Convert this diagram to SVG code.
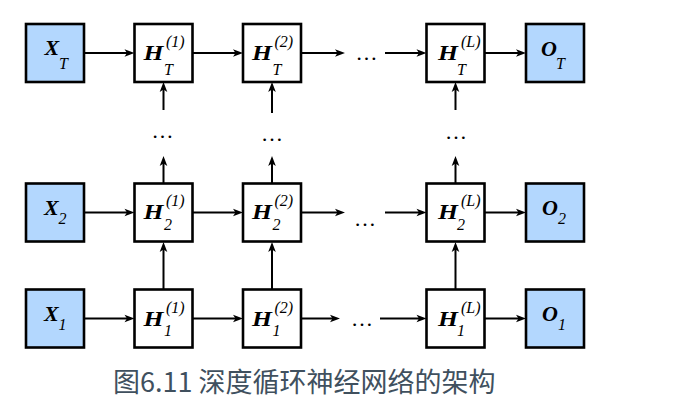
<svg xmlns="http://www.w3.org/2000/svg" width="685" height="414" viewBox="0 0 685 414">
<defs>
<marker id="ah" markerUnits="userSpaceOnUse" viewBox="-1 -5 12 10" refX="6" refY="0" markerWidth="12" markerHeight="10" orient="auto">
<path d="M0,-3.8 L10,0 L0,3.8 L2.5,0 Z" fill="#000"/>
</marker>
<style>
.box{stroke:#000;stroke-width:2.6;}
.io{fill:#b3d7fe;}
.hid{fill:#fff;}
.big{font-family:"Liberation Serif",serif;font-weight:bold;font-style:italic;font-size:22px;fill:#000;}
.sm{font-family:"Liberation Serif",serif;font-style:italic;font-size:16px;fill:#000;}
.dots{font-family:"Liberation Serif",serif;font-size:22px;fill:#000;text-anchor:middle;}
.c line{stroke:#000;stroke-width:2;marker-end:url(#ah);}
.cap{font-family:"Noto Sans CJK SC","Noto Sans",sans-serif;font-size:27px;fill:#40505e;}
</style>
</defs>
<rect width="685" height="414" fill="#fff"/>

<g class="c" id="connectors">
<line x1="84" y1="53" x2="130.5" y2="53"/>
<line x1="192.5" y1="53" x2="239" y2="53"/>
<line x1="301" y1="53" x2="341" y2="53"/>
<line x1="385" y1="53" x2="422.5" y2="53"/>
<line x1="484.5" y1="53" x2="522" y2="53"/>

<line x1="84" y1="212.5" x2="130.5" y2="212.5"/>
<line x1="192.5" y1="212.5" x2="239" y2="212.5"/>
<line x1="301" y1="212.5" x2="341" y2="212.5"/>
<line x1="385" y1="212.5" x2="422.5" y2="212.5"/>
<line x1="484.5" y1="212.5" x2="522" y2="212.5"/>

<line x1="84" y1="318.5" x2="130.5" y2="318.5"/>
<line x1="192.5" y1="318.5" x2="239" y2="318.5"/>
<line x1="301" y1="318.5" x2="336" y2="318.5"/>
<line x1="380" y1="318.5" x2="422.5" y2="318.5"/>
<line x1="484.5" y1="318.5" x2="522" y2="318.5"/>

<line x1="163.5" y1="289.5" x2="163.5" y2="246"/>
<line x1="163.5" y1="183.5" x2="163.5" y2="160"/>
<line x1="163.5" y1="110" x2="163.5" y2="86"/>
<line x1="272" y1="289.5" x2="272" y2="246"/>
<line x1="272" y1="183.5" x2="272" y2="160"/>
<line x1="272" y1="113" x2="272" y2="86"/>
<line x1="455.5" y1="289.5" x2="455.5" y2="246"/>
<line x1="455.5" y1="183.5" x2="455.5" y2="160"/>
<line x1="455.5" y1="110" x2="455.5" y2="86"/>
</g>

<g id="ellipses">
<text class="dots" x="366.5" y="59.5">…</text>
<text class="dots" x="365" y="225.5">…</text>
<text class="dots" x="362" y="325.5">…</text>
<text class="dots" x="162.5" y="137.5">…</text>
<text class="dots" x="272" y="140.5">…</text>
<text class="dots" x="456" y="138.5">…</text>
</g>

<!-- Row T -->
<g id="XT"><rect class="box io" x="26" y="24" width="58" height="58"/><text class="big" x="44.5" y="55">X</text><text class="sm" x="59" y="68.5">T</text></g>
<g id="HT1"><rect class="box hid" x="134.5" y="24" width="58" height="58"/><text class="big" x="143.5" y="60" textLength="20" lengthAdjust="spacingAndGlyphs">H</text><text class="sm" x="166" y="47">(1)</text><text class="sm" x="164" y="75">T</text></g>
<g id="HT2"><rect class="box hid" x="243" y="24" width="58" height="58"/><text class="big" x="252" y="60" textLength="20" lengthAdjust="spacingAndGlyphs">H</text><text class="sm" x="274.5" y="47">(2)</text><text class="sm" x="272.5" y="75">T</text></g>
<g id="HTL"><rect class="box hid" x="426.5" y="24" width="58" height="58"/><text class="big" x="438" y="60" textLength="20" lengthAdjust="spacingAndGlyphs">H</text><text class="sm" x="461" y="47">(L)</text><text class="sm" x="457" y="75">T</text></g>
<g id="OT"><rect class="box io" x="526" y="24" width="58" height="58"/><text class="big" x="541" y="55.5">O</text><text class="sm" x="556" y="68.5">T</text></g>

<!-- Row 2 -->
<g id="X2"><rect class="box io" x="26" y="183.5" width="58" height="58"/><text class="big" x="44" y="215">X</text><text class="sm" x="58.5" y="223.5">2</text></g>
<g id="H21"><rect class="box hid" x="134.5" y="183.5" width="58" height="58"/><text class="big" x="143.5" y="219" textLength="20" lengthAdjust="spacingAndGlyphs">H</text><text class="sm" x="166" y="206">(1)</text><text class="sm" x="164" y="230">2</text></g>
<g id="H22"><rect class="box hid" x="243" y="183.5" width="58" height="58"/><text class="big" x="252" y="219" textLength="20" lengthAdjust="spacingAndGlyphs">H</text><text class="sm" x="274.5" y="206">(2)</text><text class="sm" x="272.5" y="230">2</text></g>
<g id="H2L"><rect class="box hid" x="426.5" y="183.5" width="58" height="58"/><text class="big" x="438" y="219" textLength="20" lengthAdjust="spacingAndGlyphs">H</text><text class="sm" x="461" y="206">(L)</text><text class="sm" x="457" y="230">2</text></g>
<g id="O2"><rect class="box io" x="526" y="183.5" width="58" height="58"/><text class="big" x="542" y="215">O</text><text class="sm" x="558" y="223.5">2</text></g>

<!-- Row 1 -->
<g id="X1"><rect class="box io" x="26" y="289.5" width="58" height="58"/><text class="big" x="44" y="321">X</text><text class="sm" x="58.5" y="329.5">1</text></g>
<g id="H11"><rect class="box hid" x="134.5" y="289.5" width="58" height="58"/><text class="big" x="143.5" y="325.5" textLength="20" lengthAdjust="spacingAndGlyphs">H</text><text class="sm" x="166" y="312.5">(1)</text><text class="sm" x="164" y="335.5">1</text></g>
<g id="H12"><rect class="box hid" x="243" y="289.5" width="58" height="58"/><text class="big" x="252" y="325.5" textLength="20" lengthAdjust="spacingAndGlyphs">H</text><text class="sm" x="274.5" y="312.5">(2)</text><text class="sm" x="272.5" y="335.5">1</text></g>
<g id="H1L"><rect class="box hid" x="426.5" y="289.5" width="58" height="58"/><text class="big" x="438" y="325.5" textLength="20" lengthAdjust="spacingAndGlyphs">H</text><text class="sm" x="461" y="312.5">(L)</text><text class="sm" x="457" y="335.5">1</text></g>
<g id="O1"><rect class="box io" x="526" y="289.5" width="58" height="58"/><text class="big" x="542" y="321">O</text><text class="sm" x="558" y="329.5">1</text></g>

<text class="cap" x="113" y="392">图6.11 深度循环神经网络的架构</text>
</svg>
